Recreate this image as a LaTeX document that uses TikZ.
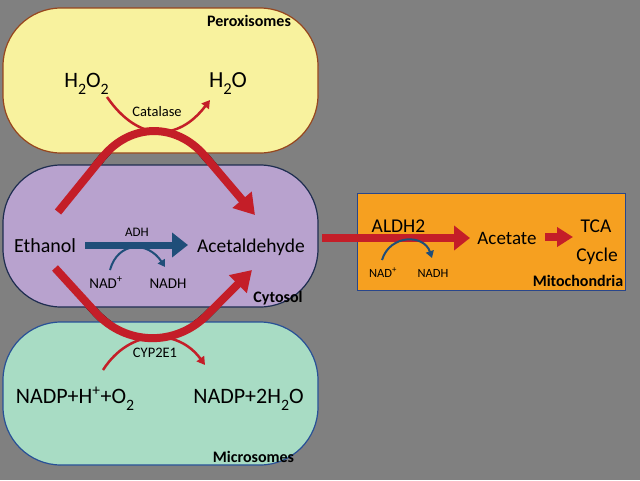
\documentclass[tikz,border=0pt]{standalone}
\usepackage{fontspec}
\setmainfont{Carlito}
\usetikzlibrary{arrows.meta}
\definecolor{bg}{RGB}{128,128,128}
\definecolor{yel}{RGB}{248,242,158}
\definecolor{yelb}{RGB}{150,70,30}
\definecolor{pur}{RGB}{184,162,206}
\definecolor{purb}{RGB}{30,45,80}
\definecolor{grn}{RGB}{168,220,196}
\definecolor{grnb}{RGB}{40,80,150}
\definecolor{org}{RGB}{246,160,32}
\definecolor{orgb}{RGB}{40,70,140}
\definecolor{redarr}{RGB}{196,30,40}
\definecolor{bluarr}{RGB}{31,78,121}
\newcommand{\mysub}[1]{\raisebox{-0.32em}{\scalebox{0.72}{#1}}}
\begin{document}
\begin{tikzpicture}[x=1pt,y=-1pt,
  lbl/.style={inner sep=0pt, anchor=base, font=\fontsize{#1}{#1}\selectfont},
  blbl/.style={inner sep=0pt, anchor=base, font=\bfseries\fontsize{#1}{#1}\selectfont},
  compart/.style={rectangle, rounded corners=58pt, line width=1.2pt, inner sep=0pt, minimum width=315pt},
  bigred/.style={draw=redarr, line width=8pt, rounded corners=80pt, -{Triangle[length=20pt,width=24pt]}},
  shadowarc/.style={draw=black, line width=8pt, rounded corners=80pt},
  thinred/.style={draw=redarr, line width=2.5pt, -{Triangle[length=8pt,width=9pt]}},
  thinblue/.style={draw=bluarr, line width=2pt, -{Triangle[length=7pt,width=8pt]}},
  thickred/.style={draw=redarr, line width=8pt, -{Triangle[length=16pt,width=24pt]}},
  thickblue/.style={draw=bluarr, line width=7pt, -{Triangle[length=16pt,width=24pt]}}
]
\useasboundingbox (0,0) rectangle (640,480);
\fill[bg] (0,0) rectangle (640,480);

% arc coordinates
\coordinate (ua) at (58,212);
\coordinate (uv) at (153,95);
\coordinate (ub) at (255,215);
\coordinate (la) at (55,268);
\coordinate (lv) at (150,372);
\coordinate (lb) at (252,270);

% shadows (visible only in the gaps)
\begin{scope}[shift={(1,4)}]
  \draw[shadowarc] (ua) -- (uv) -- (ub);
  \draw[shadowarc] (la) -- (lv) -- (lb);
\end{scope}

% compartments
\node[compart, fill=yel, draw=yelb, minimum height=145pt] (perox) at (160.5,80.5) {};
\node[compart, fill=pur, draw=purb, minimum height=142pt] (cyto) at (160.5,236) {};
\node[compart, fill=grn, draw=grnb, minimum height=143pt] (micro) at (160.5,393.5) {};
\node[rectangle, fill=org, draw=orgb, line width=1pt, inner sep=0pt, minimum width=268pt, minimum height=97pt] (mito) at (491,241.5) {};

% labels
\node[blbl=16] (lperox) at (249,26) {Peroxisomes};
\node[lbl=22] (h2o2) at (86.5,87) {H\mysub{2}O\mysub{2}};
\node[lbl=23] (h2o) at (228,87) {H\mysub{2}O};
\node[lbl=14.5] (catal) at (157,116) {Catalase};
\node[lbl=20] (ethanol) at (45,252) {Ethanol};
\node[lbl=13] (adh) at (137,236) {ADH};
\node[lbl=19.5] (acet) at (251,252) {Acetaldehyde};
\node[lbl=15] (nad1) at (106,288) {NAD\textsuperscript{+}};
\node[lbl=15] (nadh1) at (168,288) {NADH};
\node[blbl=16] (lcyto) at (278,302) {Cytosol};
\node[lbl=14.5] (cyp) at (155,357) {CYP2E1};
\node[lbl=22] (nadp1) at (75,403) {NADP+H\textsuperscript{+}+O\mysub{2}};
\node[lbl=22] (nadp2) at (248.5,403) {NADP+2H\mysub{2}O};
\node[blbl=16] (lmicro) at (253.5,462) {Microsomes};
\node[lbl=19.5] (aldh) at (398.5,232) {ALDH2};
\node[lbl=19] (acetate) at (507,244) {Acetate};
\node[lbl=19.5] (tca) at (596,232) {TCA};
\node[lbl=19.5] (cycle) at (597,261) {Cycle};
\node[lbl=12.5] (nad2) at (383,277) {NAD\textsuperscript{+}};
\node[lbl=12.5] (nadh2) at (433,277) {NADH};
\node[blbl=16] (lmito) at (578,286) {Mitochondria};

% big red arcs
\draw[bigred] (ua) -- (uv) -- (ub);
\draw[bigred] (la) -- (lv) -- (lb);

% thin red arcs
\coordinate (ca) at (107,97);
\coordinate (cb) at (210,100);
\draw[thinred] (ca) .. controls (138,142) and (178,142) .. (cb);
\coordinate (pa) at (103,370);
\coordinate (pb) at (205,365);
\draw[thinred] (pa) .. controls (130,328) and (178,328) .. (pb);

% ADH arrow
\coordinate (adha) at (85,245);
\coordinate (adhb) at (188,245);
\draw[thickblue] (adha) -- (adhb);
\coordinate (n1a) at (110,270);
\coordinate (n1b) at (165,267);
\draw[thinblue] (n1a) .. controls (118,241) and (148,241) .. (n1b);

% to mitochondria
\coordinate (ma) at (322,238);
\coordinate (mb) at (470,238);
\draw[thickred] (ma) -- (mb);
\coordinate (n2a) at (382,260);
\coordinate (n2b) at (432,258);
\draw[thinblue] (n2a) .. controls (390,234) and (424,234) .. (n2b);
\coordinate (ta) at (545,237);
\coordinate (tb) at (573,237);
\draw[draw=redarr, line width=8pt, -{Triangle[length=16pt,width=19pt]}] (ta) -- (tb);
\end{tikzpicture}
\end{document}
